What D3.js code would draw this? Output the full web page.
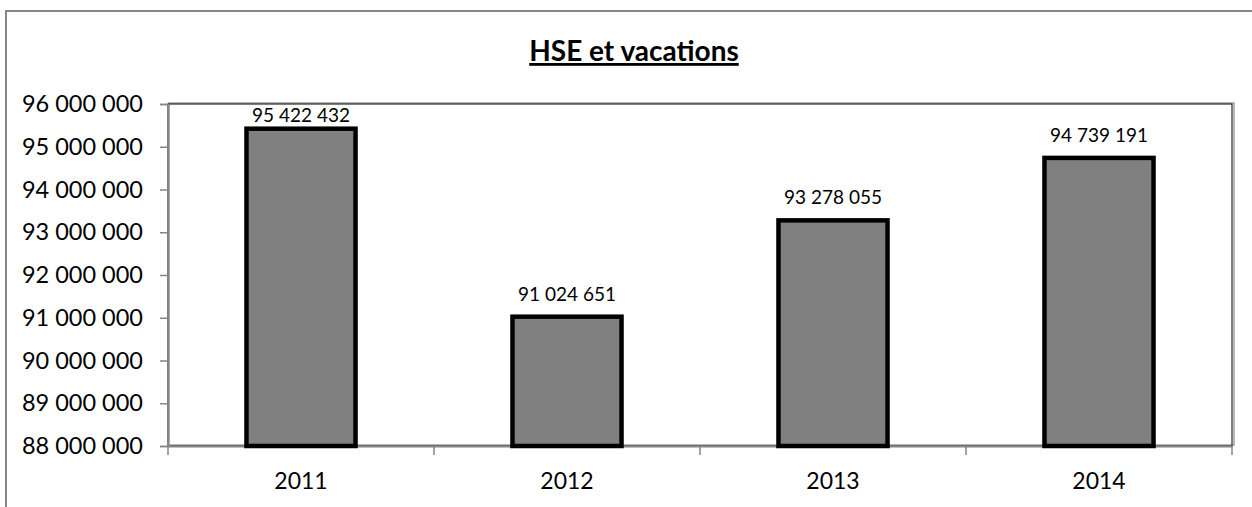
<!DOCTYPE html>
<html>
<head>
<meta charset="utf-8">
<script src="https://cdn.jsdelivr.net/npm/d3@7"></script>
<style>
  body { margin: 0; background: #fff; }
  text { font-family: Lato, "Open Sans", sans-serif; fill: #000; }
</style>
</head>
<body>
<div id="chart"></div>
<script>
const years = ["2011", "2012", "2013", "2014"];
const values = [95422432, 91024651, 93278055, 94739191];
const yTicks = [88000000, 89000000, 90000000, 91000000, 92000000, 93000000, 94000000, 95000000, 96000000];

const width = 1252, height = 507;
const margin = { top: 104, right: 20, bottom: 61, left: 168 };

const svg = d3.select("#chart").append("svg")
  .attr("width", width)
  .attr("height", height);

// outer chart frame (right and bottom edges fall outside the picture)
svg.append("rect")
  .attr("x", 6).attr("y", 11)
  .attr("width", 1260).attr("height", 520)
  .attr("fill", "none")
  .attr("stroke", "#868686")
  .attr("stroke-width", 2);

const fmt = v => d3.format(",")(v).replace(/,/g, " ");

const x = d3.scaleBand().domain(years)
  .range([margin.left, width - margin.right])
  .paddingInner(0.59).paddingOuter(0.295);

const y = d3.scaleLinear().domain([88000000, 96000000])
  .range([height - margin.bottom, margin.top]);

// plot area border with light shadow
svg.append("rect")
  .attr("x", margin.left + 1).attr("y", margin.top - 1)
  .attr("width", width - margin.right - margin.left + 1)
  .attr("height", height - margin.bottom - margin.top)
  .attr("fill", "none")
  .attr("stroke", "#a0a0a0")
  .attr("stroke-width", 1.5);
svg.append("rect")
  .attr("x", margin.left).attr("y", margin.top)
  .attr("width", width - margin.right - margin.left)
  .attr("height", height - margin.bottom - margin.top)
  .attr("fill", "none")
  .attr("stroke", "#000")
  .attr("stroke-width", 1);

// y axis
const yAxis = svg.append("g")
  .attr("transform", `translate(${margin.left},0)`)
  .call(d3.axisLeft(y).tickValues(yTicks).tickFormat(fmt).tickSize(8).tickPadding(17));
yAxis.select(".domain").attr("stroke", "#868686").attr("stroke-width", 1.5);
yAxis.selectAll(".tick line").attr("stroke", "#868686").attr("stroke-width", 1.5);
yAxis.selectAll("text").style("font-size", "23.5px").attr("fill", "#000");

// x axis, ticks on category boundaries
const step = (width - margin.right - margin.left) / years.length;
const xAxis = svg.append("g")
  .attr("transform", `translate(0,${height - margin.bottom})`)
  .call(d3.axisBottom(x).tickSize(0).tickPadding(27));
xAxis.select(".domain").attr("stroke", "#868686").attr("stroke-width", 2);
xAxis.selectAll("text").style("font-size", "23px").attr("fill", "#000");
xAxis.selectAll(".boundary")
  .data(d3.range(years.length + 1))
  .enter().append("line")
  .attr("x1", i => margin.left + i * step)
  .attr("x2", i => margin.left + i * step)
  .attr("y1", 0).attr("y2", 9)
  .attr("stroke", "#868686")
  .attr("stroke-width", 1.5);

// bars
svg.append("g")
  .selectAll("rect")
  .data(values)
  .enter().append("rect")
  .attr("x", (d, i) => x(years[i]))
  .attr("y", d => y(d))
  .attr("width", x.bandwidth())
  .attr("height", d => y(88000000) - y(d))
  .attr("fill", "#808080")
  .attr("stroke", "#000")
  .attr("stroke-width", 4.5);

// value labels, kept inside the plot area
svg.append("g")
  .selectAll("text")
  .data(values)
  .enter().append("text")
  .attr("x", (d, i) => x(years[i]) + x.bandwidth() / 2)
  .attr("y", d => Math.max(y(d) - 16, margin.top + 18))
  .attr("text-anchor", "middle")
  .style("font-size", "19px")
  .text(d => fmt(d));

// title
svg.append("text")
  .attr("x", 634)
  .attr("y", 61)
  .attr("text-anchor", "middle")
  .style("font-size", "28px")
  .style("font-weight", "bold")
  .style("text-decoration", "underline")
  .text("HSE et vacations");
</script>
</body>
</html>
